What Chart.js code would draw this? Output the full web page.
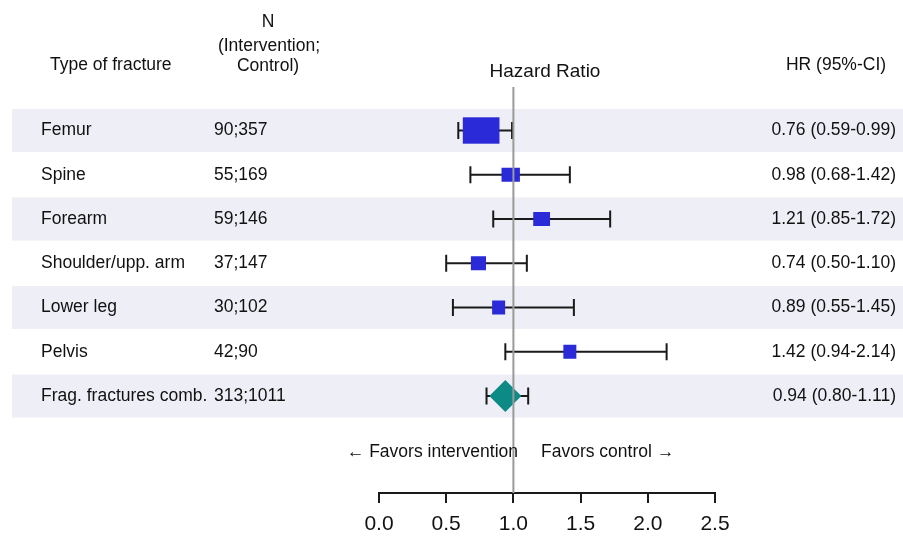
<!DOCTYPE html>
<html>
<head>
<meta charset="utf-8">
<script src="https://cdn.jsdelivr.net/npm/chart.js@4/dist/chart.umd.min.js"></script>
<style>
  body { margin: 0; background: #fff; }
  canvas { display: block; }
</style>
</head>
<body>
<canvas id="forest" width="903" height="536"></canvas>
<script>
const rowLabels = ["Femur", "Spine", "Forearm", "Shoulder/upp. arm", "Lower leg", "Pelvis", "Frag. fractures comb."];
const nIntervention = [90, 55, 59, 37, 30, 42, 313];
const nControl = [357, 169, 146, 147, 102, 90, 1011];
const hr = [0.76, 0.98, 1.21, 0.74, 0.89, 1.42, 0.94];
const ciLow = [0.59, 0.68, 0.85, 0.50, 0.55, 0.94, 0.80];
const ciHigh = [0.99, 1.42, 1.72, 1.10, 1.45, 2.14, 1.11];
const pooledRow = 6;
const tickValues = [0, 0.5, 1, 1.5, 2, 2.5];
const tickLabels = ["0.0", "0.5", "1.0", "1.5", "2.0", "2.5"];

const FONT = "'Liberation Sans', Arial, sans-serif";
const INK = "#111";
const BOX = "#2a2ad8";
const TEAL = "#0b8a86";

const studyPoints = [];
for (let i = 0; i < rowLabels.length; i++) {
  if (i !== pooledRow) studyPoints.push({x: hr[i], y: i});
}

const forestPlugin = {
  id: "forest",
  beforeDraw(chart) {
    const ctx = chart.ctx, ys = chart.scales.y;
    ctx.save();
    ctx.fillStyle = "#eeeef6";
    for (let i = 0; i < rowLabels.length; i += 2) {
      const y = ys.getPixelForValue(i);
      ctx.fillRect(12, y - 21.5, chart.width - 12, 43);
    }
    ctx.restore();
  },
  beforeDatasetsDraw(chart) {
    const ctx = chart.ctx, xs = chart.scales.x, ys = chart.scales.y;
    ctx.save();
    // whiskers
    ctx.strokeStyle = "#1a1a1a";
    ctx.lineWidth = 2;
    for (let i = 0; i < rowLabels.length; i++) {
      const y = ys.getPixelForValue(i);
      const x0 = xs.getPixelForValue(ciLow[i]), x1 = xs.getPixelForValue(ciHigh[i]);
      ctx.beginPath();
      ctx.moveTo(x0, y); ctx.lineTo(x1, y);
      ctx.moveTo(x0, y - 8.5); ctx.lineTo(x0, y + 8.5);
      ctx.moveTo(x1, y - 8.5); ctx.lineTo(x1, y + 8.5);
      ctx.stroke();
    }
    // boxes sized by total N
    ctx.fillStyle = BOX;
    for (let i = 0; i < rowLabels.length; i++) {
      if (i === pooledRow) continue;
      const n = nIntervention[i] + nControl[i];
      const w = Math.max(13, n * 0.082);
      const h = Math.max(14, w * 0.72);
      const x = xs.getPixelForValue(hr[i]), y = ys.getPixelForValue(i);
      ctx.fillRect(x - w / 2, y - h / 2, w, h);
    }
    ctx.restore();
  },
  afterDatasetsDraw(chart) {
    const ctx = chart.ctx, xs = chart.scales.x, area = chart.chartArea;
    const x = xs.getPixelForValue(1);
    ctx.save();
    ctx.strokeStyle = "#9a9a9a";
    ctx.lineWidth = 2;
    ctx.beginPath();
    ctx.moveTo(x, area.top);
    ctx.lineTo(x, area.bottom);
    ctx.stroke();
    ctx.restore();
  },
  afterDraw(chart) {
    const ctx = chart.ctx, ys = chart.scales.y;
    ctx.save();
    ctx.fillStyle = INK;
    ctx.textBaseline = "middle";
    ctx.font = "17.5px " + FONT;

    // headers
    ctx.textAlign = "left";
    ctx.fillText("Type of fracture", 50, 65);
    ctx.textAlign = "center";
    ctx.fillText("N", 268, 22);
    ctx.fillText("(Intervention;", 269, 46);
    ctx.fillText("Control)", 268, 66);
    ctx.fillText("HR (95%-CI)", 836, 65);
    ctx.font = "19px " + FONT;
    ctx.fillText("Hazard Ratio", 545, 72);

    // rows
    ctx.font = "17.5px " + FONT;
    for (let i = 0; i < rowLabels.length; i++) {
      const y = ys.getPixelForValue(i);
      ctx.textAlign = "left";
      ctx.fillText(rowLabels[i], 41, y);
      ctx.fillText(nIntervention[i] + ";" + nControl[i], 214, y);
      ctx.textAlign = "right";
      ctx.fillText(hr[i].toFixed(2) + " (" + ciLow[i].toFixed(2) + "-" + ciHigh[i].toFixed(2) + ")", 896, y);
    }

    // direction labels
    ctx.textAlign = "right";
    ctx.fillText("\u2190 Favors intervention", 518, 452);
    ctx.textAlign = "left";
    ctx.fillText("Favors control \u2192", 541, 452);
    ctx.restore();
  }
};

new Chart(document.getElementById("forest"), {
  type: "scatter",
  data: {
    datasets: [
      {
        label: "Fracture types",
        data: studyPoints,
        pointRadius: 0
      },
      {
        label: "Combined",
        data: [{x: hr[pooledRow], y: pooledRow}],
        pointStyle: "rectRot",
        pointRadius: 16,
        backgroundColor: TEAL,
        borderWidth: 0
      }
    ]
  },
  options: {
    responsive: false,
    animation: false,
    events: [],
    layout: { padding: { left: 379, right: 188, top: 87, bottom: 0 } },
    plugins: { legend: { display: false }, tooltip: { enabled: false } },
    scales: {
      x: {
        type: "linear",
        min: 0,
        max: 2.5,
        afterBuildTicks(scale) { scale.ticks = tickValues.map(v => ({value: v})); },
        afterFit(scale) { scale.height = 43; },
        ticks: {
          callback: (v) => tickLabels[tickValues.indexOf(v)],
          color: INK,
          padding: 9,
          maxRotation: 0,
          font: { family: FONT, size: 21 }
        },
        grid: { drawOnChartArea: false, drawTicks: true, tickLength: 10, color: "#1a1a1a", lineWidth: 2 },
        border: { display: true, color: "#1a1a1a", width: 2 }
      },
      y: {
        type: "linear",
        display: false,
        reverse: true,
        min: -0.983,
        max: 8.192
      }
    }
  },
  plugins: [forestPlugin]
});
</script>
</body>
</html>
